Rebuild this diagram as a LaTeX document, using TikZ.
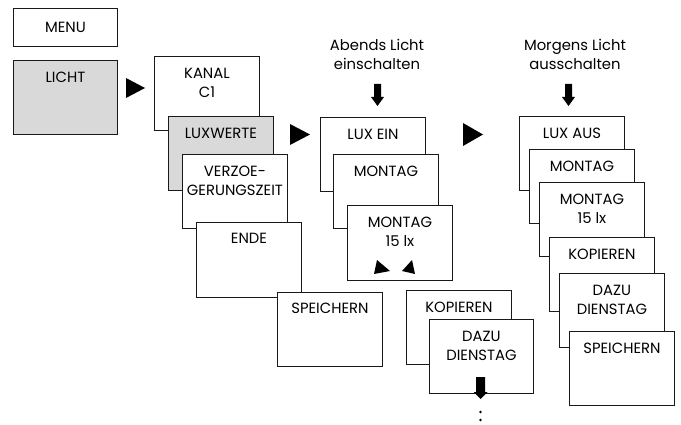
\documentclass[tikz,border=0pt]{standalone}
\usepackage{fontspec}
\setmainfont{Poppins}
\begin{document}
\begin{tikzpicture}[x=1pt, y=-1pt,
  box/.style={draw=black!90, line width=0.9pt, fill=white, minimum width=105pt,
    minimum height=74pt, inner sep=0pt, anchor=north west},
  greybox/.style={box, fill=gray!30},
  boxtext/.style={font=\fontsize{14.8}{19.5}\selectfont, align=center, anchor=north,
    inner sep=0pt, text=black, yshift=-11.5pt},
  note/.style={font=\fontsize{14.8}{19.5}\selectfont, align=center, anchor=north,
    inner sep=0pt, text=black},
  tri/.style={fill=black}
]
\useasboundingbox (0,0) rectangle (681,425);

% left column: menu and submenu stack
\node[box, minimum width=104pt, minimum height=38pt] (menu) at (13,8) {};
\node[note, anchor=center] (menutxt) at (menu.center) {MENU};
\node[greybox, minimum width=104pt, label={[boxtext]north:LICHT}] (licht) at (13,60) {};

\node[box, label={[boxtext]north:KANAL\\C1}] (kanal) at (154,56) {};
\node[greybox, label={[boxtext]north:LUXWERTE}] (luxwerte) at (168,116) {};
\node[box, label={[boxtext]north:VERZOE-\\GERUNGSZEIT}] (verz) at (182,154) {};
\node[box, minimum height=75pt, label={[boxtext, yshift=1pt]north:ENDE}] (ende) at (196,222) {};
\node[box, label={[boxtext, yshift=1pt]north:SPEICHERN}] (speich) at (277,292) {};

% evening column
\node[note] (abends) at (377,39) {Abends Licht\\einschalten};
\node[box, label={[boxtext]north:LUX EIN}] (luxein) at (320,117) {};
\node[box, label={[boxtext]north:MONTAG}] (mo1) at (333,154) {};
\node[box, minimum height=75pt, label={[boxtext]north:MONTAG\\15 lx}] (mo1lx) at (347,205) {};
\node[box, label={[boxtext]north:KOPIEREN}] (kop1) at (406,290) {};
\node[box, minimum width=104pt, label={[boxtext]north:DAZU\\DIENSTAG}] (di1) at (429,319) {};

% morning column
\node[note] (morgens) at (575,39) {Morgens Licht\\ausschalten};
\node[box, label={[boxtext]north:LUX AUS}] (luxaus) at (519,116) {};
\node[box, label={[boxtext]north:MONTAG}] (mo2) at (529,149) {};
\node[box, label={[boxtext]north:MONTAG\\15 lx}] (mo2lx) at (539,182) {};
\node[box, label={[boxtext]north:KOPIEREN}] (kop2) at (549,237) {};
\node[box, label={[boxtext]north:DAZU\\DIENSTAG}] (di2) at (559,273) {};
\node[box, label={[boxtext]north:SPEICHERN}] (speich2) at (569,331) {};

% right-pointing step arrows
\fill[tri] (126,78) -- (126,98) -- (145,88) -- cycle;
\fill[tri] (290,124) -- (290,145) -- (310,134.5) -- cycle;
\fill[tri] (463,123) -- (463,146) -- (483,134.5) -- cycle;

% down arrows below the column headings
\foreach \cx in {377.5, 568.5}{
  \fill[tri] (\cx-3.5,84) -- (\cx+3.5,84) -- (\cx+3.5,97) -- (\cx+6.5,97)
    -- (\cx,106) -- (\cx-6.5,97) -- (\cx-3.5,97) -- cycle;
}

% adjust keys inside the 15 lx box
\fill[tri] (377,260) -- (374,274) -- (390,271) -- cycle;
\fill[tri] (412,260) -- (415,274) -- (402,271) -- cycle;

% continuation arrow and dots
\fill[tri] (476,377) -- (485,377) -- (485,392) -- (487.5,392) -- (480.5,399)
  -- (473.5,392) -- (476,392) -- cycle;
\fill (480.5,412) circle (1.4);
\fill (480.5,420) circle (1.4);
\end{tikzpicture}
\end{document}
